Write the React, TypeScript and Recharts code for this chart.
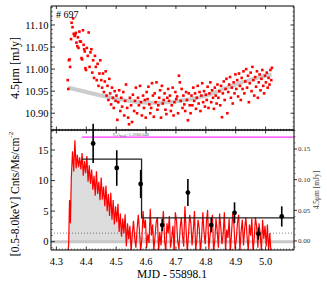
import React from 'react';
import { ComposedChart, Line, Scatter, Area, XAxis, YAxis, ReferenceLine, ErrorBar } from 'recharts';

// ---------- DATA ----------
// 4.5 micron light curve (MJD - 55898.1, mJy)
const MIR_POINTS: [number, number][] = [
  [4.338, 10.975], [4.340, 10.955], [4.342, 11.020], [4.344, 11.022], [4.346, 11.005], [4.349, 11.068], [4.351, 11.105],
  [4.354, 11.095], [4.356, 11.115], [4.358, 11.080], [4.361, 11.075], [4.363, 11.078], [4.365, 11.082], [4.367, 11.060],
  [4.370, 11.052], [4.372, 11.072], [4.374, 11.048], [4.377, 11.085], [4.379, 11.063], [4.382, 11.062], [4.384, 11.025],
  [4.386, 11.022], [4.389, 11.088], [4.391, 11.055], [4.393, 11.045], [4.395, 11.040], [4.397, 11.002], [4.399, 10.998],
  [4.402, 11.048], [4.405, 11.030], [4.408, 11.083], [4.411, 11.005], [4.414, 11.038], [4.417, 11.045], [4.420, 10.992],
  [4.423, 11.020], [4.426, 10.980], [4.429, 11.030], [4.432, 11.005], [4.435, 10.975], [4.438, 11.012], [4.441, 10.962],
  [4.444, 10.990], [4.447, 11.020], [4.450, 10.975], [4.453, 10.958], [4.456, 10.990], [4.459, 10.948], [4.462, 10.972],
  [4.465, 10.995], [4.468, 10.940], [4.471, 10.962], [4.474, 10.930], [4.477, 10.978], [4.480, 10.945], [4.483, 10.920],
  [4.486, 10.958], [4.489, 10.935], [4.492, 10.912], [4.495, 10.950], [4.498, 10.928],
  [4.501, 10.940], [4.504, 10.885], [4.507, 10.925], [4.510, 10.952], [4.514, 10.905], [4.517, 10.935], [4.520, 10.915],
  [4.524, 10.948], [4.527, 10.895], [4.530, 10.928], [4.533, 10.965], [4.537, 10.912], [4.540, 10.890], [4.543, 10.875],
  [4.546, 10.935], [4.550, 10.918], [4.553, 10.880], [4.556, 10.942], [4.560, 10.905], [4.563, 10.928], [4.566, 10.958],
  [4.570, 10.900], [4.573, 10.935], [4.576, 10.918], [4.580, 10.962], [4.583, 10.925], [4.586, 10.895], [4.590, 10.940],
  [4.593, 10.912], [4.596, 10.930], [4.599, 10.890],
  [4.602, 10.948], [4.605, 10.932], [4.608, 10.960], [4.611, 10.920], [4.614, 10.900], [4.617, 10.912], [4.620, 10.968],
  [4.623, 10.940], [4.626, 10.892], [4.629, 10.945], [4.632, 10.925], [4.635, 10.970], [4.638, 10.908], [4.641, 10.918],
  [4.644, 10.935], [4.647, 10.952], [4.650, 10.890], [4.653, 10.962], [4.656, 10.922], [4.659, 10.930], [4.662, 10.945],
  [4.665, 10.908], [4.668, 10.898], [4.671, 10.935], [4.674, 10.955], [4.677, 10.928], [4.680, 10.940], [4.683, 10.905],
  [4.686, 10.918], [4.689, 10.958], [4.692, 10.895], [4.695, 10.925], [4.698, 10.948], [4.701, 10.932], [4.704, 10.938],
  [4.707, 10.900], [4.710, 10.985], [4.713, 10.970], [4.716, 10.928], [4.719, 10.955], [4.722, 10.912], [4.725, 10.940],
  [4.728, 10.920], [4.731, 10.905], [4.734, 10.948], [4.737, 10.930], [4.740, 10.884], [4.743, 10.945], [4.746, 10.918],
  [4.749, 10.900],
  [4.752, 10.940], [4.755, 10.918], [4.758, 10.958], [4.761, 10.928], [4.764, 10.945], [4.767, 10.910], [4.770, 10.935],
  [4.773, 10.962], [4.776, 10.922], [4.779, 10.948], [4.782, 10.905], [4.785, 10.940], [4.788, 10.968], [4.791, 10.925],
  [4.794, 10.950], [4.797, 10.915], [4.800, 10.942], [4.803, 10.930], [4.806, 10.960], [4.809, 10.912], [4.812, 10.945],
  [4.815, 10.970], [4.818, 10.925], [4.821, 10.952], [4.824, 10.935], [4.827, 10.910], [4.830, 10.958], [4.833, 10.940],
  [4.836, 10.922], [4.839, 10.965], [4.842, 10.935], [4.845, 10.950], [4.848, 10.918], [4.851, 10.962], [4.854, 10.891],
  [4.857, 10.945], [4.860, 10.972], [4.863, 10.930], [4.866, 10.955], [4.869, 10.978], [4.872, 10.900], [4.875, 10.948],
  [4.878, 10.965], [4.881, 10.982], [4.884, 10.935], [4.887, 10.958], [4.890, 10.922], [4.893, 10.970], [4.896, 10.945],
  [4.899, 10.988],
  [4.902, 10.955], [4.905, 10.975], [4.908, 10.938], [4.911, 10.990], [4.914, 10.962], [4.917, 10.930], [4.920, 10.980],
  [4.923, 10.955], [4.926, 10.995], [4.929, 10.945], [4.932, 10.972], [4.935, 11.000], [4.938, 10.958], [4.941, 10.985],
  [4.944, 10.925], [4.947, 10.968], [4.950, 10.992], [4.953, 10.950], [4.956, 11.005], [4.959, 10.975], [4.962, 10.940],
  [4.965, 10.982], [4.968, 10.960], [4.971, 10.995], [4.974, 10.935], [4.977, 10.970], [4.980, 10.988], [4.983, 10.952],
  [4.986, 10.978], [4.989, 10.998], [4.992, 10.962], [4.995, 10.945], [4.998, 10.985], [5.001, 10.970], [5.004, 10.992],
  [5.007, 10.958], [5.010, 10.980], [5.013, 10.965], [5.016, 10.998], [5.019, 10.975], [5.021, 11.003],
];

// smooth baseline model under the 4.5 micron points
const MIR_MODEL: [number, number][] = [
  [4.339, 10.958], [4.40, 10.948], [4.45, 10.940], [4.50, 10.933], [4.55, 10.927], [4.60, 10.924], [4.65, 10.924],
  [4.70, 10.927], [4.75, 10.932], [4.80, 10.940], [4.85, 10.952], [4.90, 10.965], [4.95, 10.976], [5.00, 10.985], [5.02, 10.988],
];

// X-ray count rate (0.5-8 keV, Cnts/Ms/cm^-2)
const XRAY_RATE: [number, number][] = [
  [4.337, -2.5], [4.341, -0.5], [4.344, 6.8], [4.347, 3.0], [4.350, 10.5], [4.354, 14.8], [4.358, 11.5], [4.362, 16.6],
  [4.366, 12.0], [4.370, 14.2], [4.374, 12.2], [4.378, 13.8], [4.382, 11.8], [4.386, 14.5], [4.390, 10.8], [4.394, 13.2],
  [4.398, 11.2], [4.402, 14.0], [4.406, 9.8], [4.410, 12.5], [4.414, 9.5], [4.418, 11.8], [4.422, 8.5], [4.426, 10.8],
  [4.430, 7.5], [4.434, 11.5], [4.438, 7.8], [4.442, 9.8], [4.446, 6.8], [4.450, 10.5], [4.454, 6.9], [4.458, 9.0],
  [4.462, 5.8], [4.466, 9.2], [4.470, 5.0], [4.474, 7.8], [4.478, 4.2], [4.482, 8.0], [4.486, 3.6], [4.490, 6.8],
  [4.494, 2.8], [4.498, 5.8], [4.502, 3.2], [4.506, 6.2], [4.510, 1.6], [4.514, 4.6], [4.518, 0.8], [4.522, 3.8],
  [4.526, 1.4], [4.530, 4.5], [4.534, -0.8], [4.538, 3.0], [4.542, 0.4], [4.546, 2.6],
  [4.550, -1.6], [4.554, 1.2], [4.558, 3.4], [4.562, 0.6], [4.566, -1.0], [4.570, 2.0], [4.574, 4.4], [4.578, 1.8],
  [4.582, -1.5], [4.586, 0.4], [4.590, 5.0], [4.594, 2.2], [4.598, 3.6], [4.602, -1.0], [4.606, 1.2], [4.610, -0.2],
  [4.614, 5.4], [4.618, 1.0], [4.622, 2.8], [4.626, -1.4], [4.630, 0.8], [4.634, 3.2], [4.638, 4.0], [4.642, -1.8],
  [4.646, 1.6], [4.650, -0.6], [4.654, 2.4], [4.658, 5.0], [4.662, 0.2], [4.666, -1.6], [4.670, 3.0], [4.674, 1.4],
  [4.678, 4.2], [4.682, -1.0], [4.686, 0.6], [4.690, 2.6], [4.694, -1.8], [4.698, 4.8], [4.702, 3.4], [4.706, 0.0],
  [4.710, -1.2], [4.714, 2.2], [4.718, 4.0], [4.722, 1.0], [4.726, -0.8], [4.730, 5.8], [4.734, 2.0], [4.738, -1.7],
  [4.742, 1.2], [4.746, 4.4], [4.750, 3.0], [4.754, -0.6], [4.758, 1.8], [4.762, 5.0], [4.766, -1.4], [4.770, 0.4],
  [4.774, 3.6], [4.778, 2.2], [4.782, -1.8], [4.786, 0.8], [4.790, 4.8], [4.794, 1.4], [4.798, -0.4], [4.802, 3.2],
  [4.806, 5.2], [4.810, -1.2], [4.814, 1.0], [4.818, 2.6], [4.822, 4.4], [4.826, -1.6], [4.830, 0.2], [4.834, 3.8],
  [4.838, 1.8], [4.842, -1.0], [4.846, 4.6], [4.850, 2.4], [4.854, -0.4], [4.858, 1.2], [4.862, 4.8], [4.866, -1.5],
  [4.870, 2.0], [4.874, 0.6], [4.878, 3.8], [4.882, -1.8], [4.886, 1.4], [4.890, 4.6], [4.894, 2.8], [4.898, -1.2],
  [4.902, 0.4], [4.906, 3.2], [4.910, 4.4], [4.914, -1.6], [4.918, 1.6], [4.922, 3.6], [4.926, -0.6], [4.930, 2.2],
  [4.934, 4.0], [4.938, 0.8], [4.942, -1.4], [4.946, 2.8], [4.950, 1.0], [4.954, 3.8], [4.958, -1.8], [4.962, 0.6],
  [4.966, 4.0], [4.970, 2.4], [4.974, -1.0], [4.978, 3.0], [4.982, 1.2], [4.986, -1.5], [4.990, 3.6], [4.994, 0.4],
  [4.998, 2.6], [5.002, -0.8], [5.006, 2.8], [5.010, -1.6], [5.014, 1.4], [5.018, -1.8],
];

// smoothed X-ray flare envelope (grey fill)
const XRAY_ENVELOPE: [number, number][] = [
  [4.337, 0], [4.342, 0.5], [4.346, 6.5], [4.352, 11.5], [4.360, 12.8], [4.370, 13.2], [4.385, 12.8], [4.400, 12.0],
  [4.420, 10.5], [4.450, 7.5], [4.480, 5.6], [4.500, 4.2], [4.530, 2.5], [4.560, 1.3], [4.600, 0.6], [4.650, 0.2], [4.700, 0],
];

// binned X-ray rate (step)
const XRAY_BINS: [number, number][] = [[4.385, 13.5], [4.585, 13.5], [4.585, 3.9], [5.095, 3.9]];

// binned 4.5 micron excess (mJy) with errors
const IR_BIN_T = [4.423, 4.502, 4.582, 4.654, 4.740, 4.818, 4.896, 4.976, 5.054];
const IR_BIN_FLUX = [0.159, 0.119, 0.093, 0.026, 0.079, 0.026, 0.046, 0.012, 0.040];
const IR_BIN_ERR = [0.032, 0.029, 0.023, 0.010, 0.022, 0.012, 0.017, 0.010, 0.0165];

const PEAK_LEVEL = 17.1;
const DOTTED_LEVEL = 1.4;

// tick labels
const X_TICK_LABELS = ['4.3', '4.4', '4.5', '4.6', '4.7', '4.8', '4.9', '5.0'];
const TOP_Y_TICK_LABELS = ['10.90', '10.95', '11.00', '11.05', '11.10'];
const BOT_LEFT_TICK_LABELS = ['0', '5', '10', '15'];
const BOT_RIGHT_TICK_LABELS = ['0.00', '0.05', '0.10', '0.15'];

const X_DOMAIN: [number, number] = [4.282, 5.095];
const TOP_Y_DOMAIN: [number, number] = [10.862, 11.143];
const BOT_L_DOMAIN: [number, number] = [-1.36, 18.27];
const BOT_R_DOMAIN: [number, number] = [-0.0147, 0.181];

// ---------- helpers ----------
function range(a: number, b: number, step: number): number[] {
  const out: number[] = [];
  const n = Math.round((b - a) / step);
  for (let i = 0; i <= n; i++) out.push(Math.round((a + i * step) * 1e6) / 1e6);
  return out;
}

const FONT = 'Liberation Serif, Times New Roman, serif';

type Side = 'left' | 'right' | 'top' | 'bottom';
interface TickOpts {
  inward: boolean;
  labels?: boolean;
  fontSize?: number;
  gap?: number;
  color?: string;
  majorLen?: number;
  minorLen?: number;
}
function tickRenderer(side: Side, majors: string[], opts: TickOpts) {
  const majorVals = majors.map(Number);
  return (props: any) => {
    const { x, y, payload } = props;
    const v = Number(payload.value);
    const idx = majorVals.findIndex((m) => Math.abs(m - v) < 1e-6);
    const isMajor = idx >= 0;
    const len = isMajor ? opts.majorLen ?? 4 : opts.minorLen ?? 1.5;
    if (len <= 0 && !isMajor) return <g />;
    const s = opts.inward ? 1 : -1;
    let x2 = x;
    let y2 = y;
    if (side === 'left') x2 = x + s * len;
    if (side === 'right') x2 = x - s * len;
    if (side === 'bottom') y2 = y - s * len;
    if (side === 'top') y2 = y + s * len;
    let label: React.ReactNode = null;
    if (isMajor && opts.labels) {
      const g = opts.gap ?? 3;
      const common = { fontSize: opts.fontSize ?? 10.5, fontFamily: FONT, fill: opts.color ?? '#000' };
      if (side === 'left')
        label = <text x={x - g} y={y} dy="0.35em" textAnchor="end" {...common}>{majors[idx]}</text>;
      else if (side === 'right')
        label = <text x={x + g} y={y} dy="0.35em" textAnchor="start" {...common}>{majors[idx]}</text>;
      else if (side === 'bottom')
        label = <text x={x} y={y + g} textAnchor="middle" {...common}>{majors[idx]}</text>;
      else label = <text x={x} y={y - g} textAnchor="middle" {...common}>{majors[idx]}</text>;
    }
    return (
      <g>
        {len > 0 && <line x1={x} y1={y} x2={x2} y2={y2} stroke="#000" strokeWidth={isMajor ? 0.8 : 0.5} />}
        {label}
      </g>
    );
  };
}

const X_MINOR = range(4.29, 5.09, 0.01);
const X_MAJOR = X_TICK_LABELS.map(Number);
const TOP_Y_MINOR = range(10.87, 11.14, 0.01);
const BOT_L_MINOR = range(-1, 18, 1);
const BOT_R_MINOR = range(-0.01, 0.18, 0.01);

const W = 327;
const H = 286;

const mirData = MIR_POINTS.map(([t, f]) => ({ t, f }));
const mirModel = MIR_MODEL.map(([t, f]) => ({ t, f }));
const xrayRate = XRAY_RATE.map(([t, c]) => ({ t, c }));
const xrayEnv = XRAY_ENVELOPE.map(([t, c]) => ({ t, c }));
const xrayBins = XRAY_BINS.map(([t, c]) => ({ t, c }));
const irBins = IR_BIN_T.map((t, i) => ({ t, f: IR_BIN_FLUX[i], e: IR_BIN_ERR[i] }));

const RedSquare = (p: any) => <rect x={p.cx - 1.3} y={p.cy - 1.3} width={2.6} height={2.6} fill="#ff0000" />;
const BlackDot = (p: any) => <circle cx={p.cx} cy={p.cy} r={2.4} fill="#000" />;

const axisLine = { stroke: '#000', strokeWidth: 1 };

function TopPanel() {
  return (
    <ComposedChart width={W} height={H} margin={{ top: 0, right: 0, bottom: 0, left: 0 }}>
      <XAxis xAxisId="xb" dataKey="t" type="number" orientation="bottom" height={156} domain={X_DOMAIN}
        allowDataOverflow ticks={X_MINOR} interval={0} tickSize={0} tickMargin={0} tickLine={false} axisLine={axisLine}
        tick={tickRenderer('bottom', X_TICK_LABELS, { inward: true, majorLen: 3.5, minorLen: 1.2 })} />
      <XAxis xAxisId="xt" dataKey="t" type="number" orientation="top" height={6} domain={X_DOMAIN}
        allowDataOverflow ticks={X_MAJOR} interval={0} tickSize={0} tickMargin={0} tickLine={false} axisLine={axisLine}
        tick={tickRenderer('top', X_TICK_LABELS, { inward: true, majorLen: 3, minorLen: 0 })} />
      <YAxis yAxisId="yl" type="number" orientation="left" width={51} domain={TOP_Y_DOMAIN} allowDataOverflow
        ticks={TOP_Y_MINOR} interval={0} tickSize={0} tickMargin={0} tickLine={false} axisLine={axisLine}
        tick={tickRenderer('left', TOP_Y_TICK_LABELS, { inward: true, labels: true, fontSize: 10.5, gap: 2.5, majorLen: 4, minorLen: 2 })} />
      <YAxis yAxisId="yr" type="number" orientation="right" width={33} domain={TOP_Y_DOMAIN} allowDataOverflow
        ticks={TOP_Y_MINOR} interval={0} tickSize={0} tickMargin={0} tickLine={false} axisLine={axisLine}
        tick={tickRenderer('right', TOP_Y_TICK_LABELS, { inward: true, majorLen: 3.5, minorLen: 1.5 })} />
      <Line xAxisId="xb" yAxisId="yl" data={mirModel} dataKey="f" type="monotone" stroke="#cccccc" strokeWidth={4}
        dot={false} activeDot={false} isAnimationActive={false} />
      <Scatter xAxisId="xb" yAxisId="yl" data={mirData} dataKey="f" shape={RedSquare} isAnimationActive={false} />
    </ComposedChart>
  );
}

function BottomPanel() {
  return (
    <ComposedChart width={W} height={H} margin={{ top: 0, right: 0, bottom: 0, left: 0 }}>
      <XAxis xAxisId="xb" dataKey="t" type="number" orientation="bottom" height={36} domain={X_DOMAIN}
        allowDataOverflow ticks={X_MINOR} interval={0} tickSize={0} tickMargin={0} tickLine={false} axisLine={axisLine}
        tick={tickRenderer('bottom', X_TICK_LABELS, { inward: true, labels: true, fontSize: 10.5, gap: 14.5, majorLen: 3.5, minorLen: 1.5 })} />
      <XAxis xAxisId="xt" dataKey="t" type="number" orientation="top" height={130} domain={X_DOMAIN}
        allowDataOverflow ticks={X_MINOR} interval={0} tickSize={0} tickMargin={0} tickLine={false} axisLine={axisLine}
        tick={tickRenderer('top', X_TICK_LABELS, { inward: true, majorLen: 3.5, minorLen: 1.2 })} />
      <YAxis yAxisId="yl" type="number" orientation="left" width={51} domain={BOT_L_DOMAIN} allowDataOverflow
        ticks={BOT_L_MINOR} interval={0} tickSize={0} tickMargin={0} tickLine={false} axisLine={axisLine}
        tick={tickRenderer('left', BOT_LEFT_TICK_LABELS, { inward: true, labels: true, fontSize: 10.5, gap: 2.5, majorLen: 4, minorLen: 2 })} />
      <YAxis yAxisId="yr" type="number" orientation="right" width={33} domain={BOT_R_DOMAIN} allowDataOverflow
        ticks={BOT_R_MINOR} interval={0} tickSize={0} tickMargin={0} tickLine={false} axisLine={axisLine}
        tick={tickRenderer('right', BOT_RIGHT_TICK_LABELS, { inward: false, labels: true, fontSize: 7, gap: 4, color: '#333', majorLen: 3, minorLen: 1.5 })} />
      <Area xAxisId="xb" yAxisId="yl" data={xrayEnv} dataKey="c" type="linear" baseValue={0} fill="#dcdcdc"
        fillOpacity={1} stroke="none" isAnimationActive={false} />
      <ReferenceLine xAxisId="xb" yAxisId="yl" y={0} stroke="#c8c8c8" strokeWidth={3} />
      <ReferenceLine xAxisId="xb" yAxisId="yl" y={DOTTED_LEVEL} stroke="#444" strokeWidth={0.7} strokeDasharray="1 2" />
      <Line xAxisId="xb" yAxisId="yl" data={xrayRate} dataKey="c" type="linear" stroke="#ff0000" strokeWidth={1.2}
        dot={false} activeDot={false} isAnimationActive={false} />
      <Line xAxisId="xb" yAxisId="yl" data={xrayBins} dataKey="c" type="linear" stroke="#222" strokeWidth={1.3}
        dot={false} activeDot={false} isAnimationActive={false} />
      <ReferenceLine xAxisId="xb" yAxisId="yl" segment={[{ x: 4.385, y: PEAK_LEVEL }, { x: X_DOMAIN[1], y: PEAK_LEVEL }]}
        stroke="#ff33ff" strokeWidth={1.2} />
      <Scatter xAxisId="xb" yAxisId="yr" data={irBins} dataKey="f" shape={BlackDot} isAnimationActive={false}>
        <ErrorBar dataKey="e" direction="y" width={0} stroke="#000" strokeWidth={1.6} />
      </Scatter>
    </ComposedChart>
  );
}

export default function App() {
  return (
    <div style={{ position: 'absolute', left: 0, top: 0, width: W, height: H, background: '#fff' }}>
      <div style={{ position: 'absolute', left: 0, top: 0 }}>
        <BottomPanel />
      </div>
      <div style={{ position: 'absolute', left: 0, top: 0 }}>
        <TopPanel />
      </div>
      <svg width={W} height={H} style={{ position: 'absolute', left: 0, top: 0, pointerEvents: 'none' }}>
        <text x={56} y={18} fontSize={10} fontFamily={FONT} fill="#000"># 697</text>
        <text x={15} y={68} transform="rotate(-90 15 68)" textAnchor="middle" dominantBaseline="central"
          fontSize={12} fontFamily={FONT} fill="#000">4.5μm [mJy]</text>
        <text x={15} y={194} transform="rotate(-90 15 194)" textAnchor="middle" dominantBaseline="central"
          fontSize={11.5} fontFamily={FONT} fill="#000">
          [0.5-8.0keV] Cnts/Ms/cm<tspan dy={-4} fontSize={7}>-2</tspan>
        </text>
        <text x={316} y={190} transform="rotate(-90 316 190)" textAnchor="middle" dominantBaseline="central"
          fontSize={7.5} fontFamily={FONT} fill="#444">4.5μm [mJy]</text>
        <text x={172} y={278} textAnchor="middle" fontSize={11.5} fontFamily={FONT} fill="#000">MJD - 55898.1</text>
        <text x={113} y={136} fontSize={4.5} fontFamily={FONT} fill="#666">
          F<tspan fontSize={3.2} dy={1}>ν</tspan><tspan dy={-1}>A</tspan><tspan fontSize={3.2} dy={1}>peak</tspan><tspan dy={-1}>=1.2680.048</tspan>
        </text>
      </svg>
    </div>
  );
}
